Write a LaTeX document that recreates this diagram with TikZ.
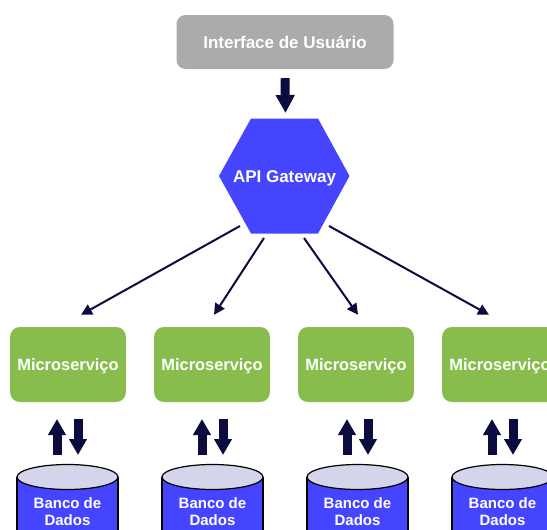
\documentclass[tikz,border=0pt]{standalone}
\usepackage{fontspec}
\setmainfont{Liberation Sans}
\usetikzlibrary{arrows.meta,shapes.geometric}
\definecolor{uigray}{HTML}{ABABAB}
\definecolor{gwblue}{HTML}{4545FF}
\definecolor{msgreen}{HTML}{88BD4E}
\definecolor{navy}{HTML}{0B0B40}
\definecolor{dbtop}{HTML}{D4D4EA}
\begin{document}
\begin{tikzpicture}[x=1pt,y=-1pt,
  uibox/.style={fill=uigray, rounded corners=9pt, minimum width=217pt, minimum height=54pt,
    text=white, inner sep=0pt, font=\bfseries\fontsize{17}{20}\selectfont, text height=12pt, text depth=0pt},
  hexa/.style={inner sep=0pt, text=white, font=\bfseries\fontsize{17}{20}\selectfont, text height=12pt, text depth=0pt},
  msbox/.style={fill=msgreen, rounded corners=10pt, minimum width=116pt, minimum height=75pt,
    text=white, inner sep=0pt, font=\bfseries\fontsize{16.4}{19}\selectfont, text height=11.5pt, text depth=0pt},
  dbtext/.style={align=center, text=white, inner sep=0pt, font=\bfseries\fontsize{15}{17}\selectfont},
  conn/.style={draw=navy, line width=2pt, -{Triangle[width=11pt,length=11pt]}},
  blockarrow/.style={draw=navy, line width=9pt, -{Triangle[width=17pt,length=16pt]}},
]
\useasboundingbox (0,0) rectangle (547,530);

\node[uibox] (ui) at (285,42) {Interface de Usuário};

\coordinate (gwc) at (284.5,176);
\fill[gwblue] ([shift={(-65.5,0)}]gwc) -- ([shift={(-33.5,-57.5)}]gwc) -- ([shift={(33.5,-57.5)}]gwc)
  -- ([shift={(65,0)}]gwc) -- ([shift={(33.5,57.5)}]gwc) -- ([shift={(-33.5,57.5)}]gwc) -- cycle;
\node[hexa] (gw) at (gwc) {API Gateway};

\coordinate (ta) at ([yshift=-9pt]ui.south);
\coordinate (tb) at ([shift={(1,-63)}]gwc);
\draw[draw=navy, line width=9pt, -{Triangle[width=18pt,length=18pt]}] (ta) -- (tb);

\foreach \i/\mx in {1/68, 2/212, 3/356, 4/500}{
  \node[msbox] (ms\i) at (\mx,364.5) {Microserviço};
}

\coordinate (g1) at ([shift={(-44.5,50)}]gwc);
\coordinate (g2) at ([shift={(-20.5,62)}]gwc);
\coordinate (g3) at ([shift={(19.5,62)}]gwc);
\coordinate (g4) at ([shift={(44.5,50)}]gwc);
\coordinate (e1) at ([shift={(13,-12)}]ms1.north);
\coordinate (e2) at ([shift={(2,-12)}]ms2.north);
\coordinate (e3) at ([shift={(2,-12)}]ms3.north);
\coordinate (e4) at ([shift={(-11,-12)}]ms4.north);
\foreach \i in {1,2,3,4}{
  \draw[conn] (g\i) -- (e\i);
}

\foreach \i/\cx in {1/67.5, 2/212.5, 3/357.5, 4/502.5}{
  \fill[gwblue] (\cx-50.5,477) rectangle (\cx+50.5,560);
  \draw[line width=1.2pt] (\cx-50.5,477) -- (\cx-50.5,560) (\cx+50.5,477) -- (\cx+50.5,560);
  \draw[fill=dbtop, line width=1.2pt] (\cx,477) ellipse [x radius=50.5, y radius=12.5];
  \node[dbtext] (db\i) at (\cx,512) {Banco de\\Dados};
  \coordinate (ua\i) at (\cx-10.5,455);
  \coordinate (ub\i) at (\cx-10.5,419);
  \coordinate (da\i) at (\cx+10.5,419);
  \coordinate (db\i e) at (\cx+10.5,455);
  \draw[blockarrow] (ua\i) -- (ub\i);
  \draw[blockarrow] (da\i) -- (db\i e);
}
\end{tikzpicture}
\end{document}
